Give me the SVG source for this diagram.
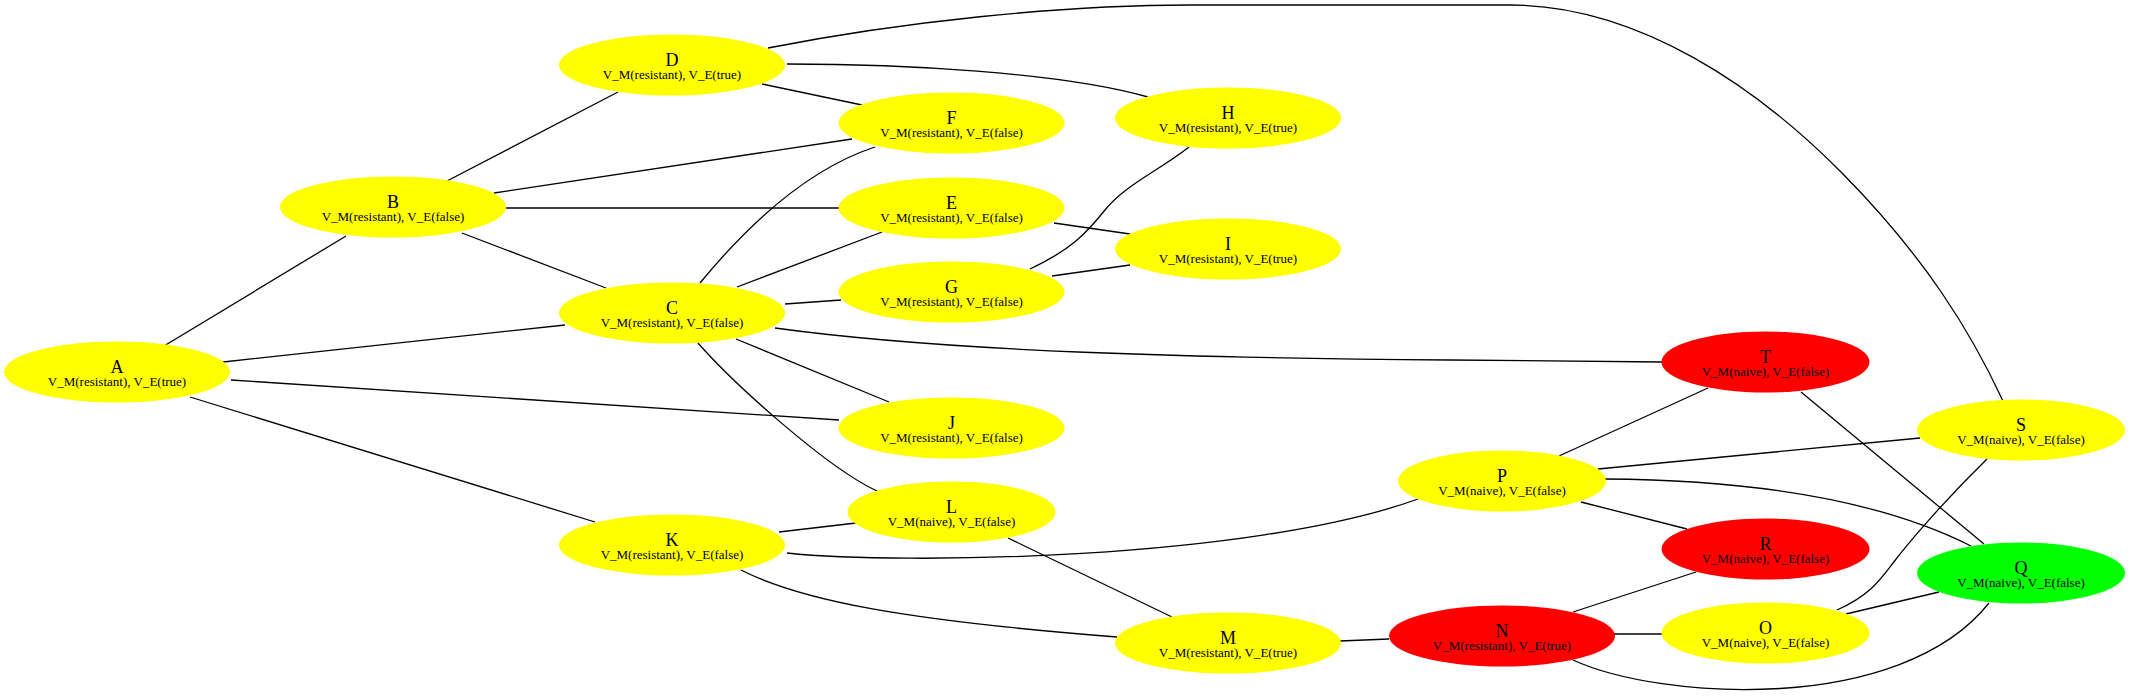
<svg xmlns="http://www.w3.org/2000/svg" width="2130" height="697" viewBox="0 0 2130 697">
<style>
.e{fill:none;stroke:#000;stroke-width:1.3}
.y{fill:#ffff00}
.r{fill:#ff0000}
.g{fill:#00ff00}
.t{font-family:"Liberation Serif","Times New Roman",serif;font-size:18px;text-anchor:middle;fill:#000}
.s{font-family:"Liberation Serif","Times New Roman",serif;font-size:13px;text-anchor:middle;fill:#000}
</style>
<rect width="2130" height="697" fill="#fff"/>
<g id="edges">
<path class="e" d="M164,346 L346,236"/>
<path class="e" d="M223,362 L565,325"/>
<path class="e" d="M231,380 L839,420"/>
<path class="e" d="M190,397 L595,522"/>
<path class="e" d="M447,181 L618,92"/>
<path class="e" d="M494,193 L852,139"/>
<path class="e" d="M506,208 L839,208"/>
<path class="e" d="M462,233 L606,288"/>
<path class="e" d="M762,84 L862,105"/>
<path class="e" d="M787,64 C900,64 1060,72 1148,97"/>
<path class="e" d="M768,48 C900,22 1060,5 1190,5 L1510,5 C1640,5 1760,90 1842,173 C1924,256 1970,330 2003,401"/>
<path class="e" d="M700,283 C760,210 820,165 875,147"/>
<path class="e" d="M737,287 L882,232"/>
<path class="e" d="M785,304 L841,300"/>
<path class="e" d="M775,328 C950,352 1200,358 1450,360 L1662,362"/>
<path class="e" d="M736,339 L889,402"/>
<path class="e" d="M698,343 C733,383 827,468 877,491"/>
<path class="e" d="M1054,223 L1130,234"/>
<path class="e" d="M1030,269 C1070,250 1085,235 1105,210 C1125,185 1160,170 1189,147"/>
<path class="e" d="M1052,276 L1130,265"/>
<path class="e" d="M779,532 L856,523"/>
<path class="e" d="M787,553 C900,565 1250,560 1418,499"/>
<path class="e" d="M741,570 C800,600 900,620 1117,637"/>
<path class="e" d="M1008,538 L1172,617"/>
<path class="e" d="M1340,641 L1389,639"/>
<path class="e" d="M1614,634 L1662,634"/>
<path class="e" d="M1573,612 L1696,572"/>
<path class="e" d="M1573,660 C1660,700 1900,715 1989,603"/>
<path class="e" d="M1846,614 L1939,592"/>
<path class="e" d="M1837,610 C1870,595 1880,580 1893,563 C1906,546 1940,505 1987,459"/>
<path class="e" d="M1559,456 L1708,388"/>
<path class="e" d="M1598,469 L1920,438"/>
<path class="e" d="M1605,479 C1750,480 1880,500 1971,546"/>
<path class="e" d="M1581,502 L1687,529"/>
<path class="e" d="M1801,392 L1984,544"/>
</g>
<g id="A"><ellipse class="y" cx="117" cy="372" rx="113" ry="30.5"/><text class="t" x="117" y="373">A</text><text class="s" x="117" y="386">V_M(resistant), V_E(true)</text></g>
<g id="B"><ellipse class="y" cx="393" cy="207" rx="113" ry="30.5"/><text class="t" x="393" y="208">B</text><text class="s" x="393" y="221">V_M(resistant), V_E(false)</text></g>
<g id="C"><ellipse class="y" cx="672" cy="313" rx="113" ry="30.5"/><text class="t" x="672" y="314">C</text><text class="s" x="672" y="327">V_M(resistant), V_E(false)</text></g>
<g id="D"><ellipse class="y" cx="672" cy="65" rx="113" ry="30.5"/><text class="t" x="672" y="66">D</text><text class="s" x="672" y="79">V_M(resistant), V_E(true)</text></g>
<g id="E"><ellipse class="y" cx="951.5" cy="208" rx="113" ry="30.5"/><text class="t" x="951.5" y="209">E</text><text class="s" x="951.5" y="222">V_M(resistant), V_E(false)</text></g>
<g id="F"><ellipse class="y" cx="951.5" cy="123" rx="113" ry="30.5"/><text class="t" x="951.5" y="124">F</text><text class="s" x="951.5" y="137">V_M(resistant), V_E(false)</text></g>
<g id="G"><ellipse class="y" cx="951.5" cy="292" rx="113" ry="30.5"/><text class="t" x="951.5" y="293">G</text><text class="s" x="951.5" y="306">V_M(resistant), V_E(false)</text></g>
<g id="H"><ellipse class="y" cx="1228" cy="118" rx="113" ry="30.5"/><text class="t" x="1228" y="119">H</text><text class="s" x="1228" y="132">V_M(resistant), V_E(true)</text></g>
<g id="I"><ellipse class="y" cx="1228" cy="249" rx="113" ry="30.5"/><text class="t" x="1228" y="250">I</text><text class="s" x="1228" y="263">V_M(resistant), V_E(true)</text></g>
<g id="J"><ellipse class="y" cx="951.5" cy="428" rx="113" ry="30.5"/><text class="t" x="951.5" y="429">J</text><text class="s" x="951.5" y="442">V_M(resistant), V_E(false)</text></g>
<g id="K"><ellipse class="y" cx="672" cy="545" rx="113" ry="30.5"/><text class="t" x="672" y="546">K</text><text class="s" x="672" y="559">V_M(resistant), V_E(false)</text></g>
<g id="L"><ellipse class="y" cx="951.5" cy="512" rx="104" ry="30.5"/><text class="t" x="951.5" y="513">L</text><text class="s" x="951.5" y="526">V_M(naive), V_E(false)</text></g>
<g id="M"><ellipse class="y" cx="1228" cy="643" rx="113" ry="30.5"/><text class="t" x="1228" y="644">M</text><text class="s" x="1228" y="657">V_M(resistant), V_E(true)</text></g>
<g id="N"><ellipse class="r" cx="1502" cy="636" rx="113" ry="30.5"/><text class="t" x="1502" y="637">N</text><text class="s" x="1502" y="650">V_M(resistant), V_E(true)</text></g>
<g id="O"><ellipse class="y" cx="1765.5" cy="633" rx="104" ry="30.5"/><text class="t" x="1765.5" y="634">O</text><text class="s" x="1765.5" y="647">V_M(naive), V_E(false)</text></g>
<g id="P"><ellipse class="y" cx="1502" cy="481" rx="104" ry="30.5"/><text class="t" x="1502" y="482">P</text><text class="s" x="1502" y="495">V_M(naive), V_E(false)</text></g>
<g id="Q"><ellipse class="g" cx="2021" cy="573" rx="104" ry="30.5"/><text class="t" x="2021" y="574">Q</text><text class="s" x="2021" y="587">V_M(naive), V_E(false)</text></g>
<g id="R"><ellipse class="r" cx="1765.5" cy="549" rx="104" ry="30.5"/><text class="t" x="1765.5" y="550">R</text><text class="s" x="1765.5" y="563">V_M(naive), V_E(false)</text></g>
<g id="S"><ellipse class="y" cx="2021" cy="430" rx="104" ry="30.5"/><text class="t" x="2021" y="431">S</text><text class="s" x="2021" y="444">V_M(naive), V_E(false)</text></g>
<g id="T"><ellipse class="r" cx="1765.5" cy="362" rx="104" ry="30.5"/><text class="t" x="1765.5" y="363">T</text><text class="s" x="1765.5" y="376">V_M(naive), V_E(false)</text></g>
</svg>
